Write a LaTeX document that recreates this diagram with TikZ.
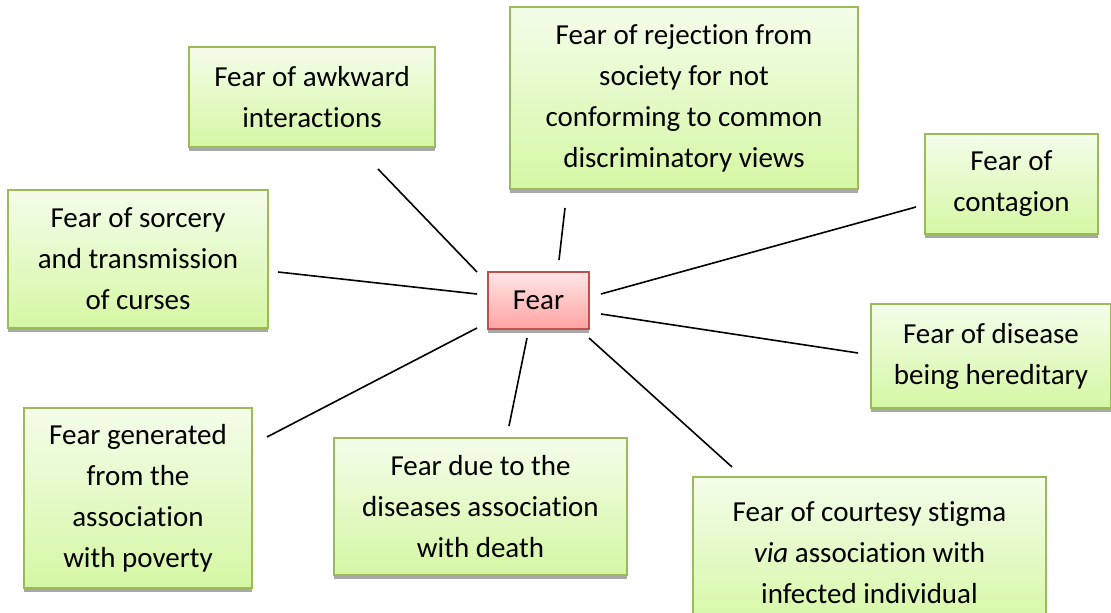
\documentclass[tikz,border=0pt]{standalone}
\usepackage{fontspec}
\setmainfont{Carlito}[Ligatures=NoCommon]
\usetikzlibrary{shadows}
\definecolor{gborder}{HTML}{9BBB59}
\definecolor{gtop}{HTML}{F4FDEA}
\definecolor{gbot}{HTML}{D5F7A4}
\definecolor{rborder}{HTML}{C0504D}
\definecolor{rtop}{HTML}{FFE6E6}
\definecolor{rbot}{HTML}{FFA3A3}
\definecolor{shadowgray}{HTML}{A8A8A8}
\tikzset{
  gbox/.style={draw=gborder, line width=2pt, top color=gtop, bottom color=gbot,
    align=center, inner sep=0pt, font=\fontsize{29}{41}\selectfont,
    general shadow={fill=shadowgray, shadow xshift=0pt, shadow yshift=-4pt}},
  rbox/.style={draw=rborder, line width=2pt, top color=rtop, bottom color=rbot,
    align=center, inner sep=0pt, font=\fontsize{29}{41}\selectfont,
    general shadow={fill=shadowgray, shadow xshift=0pt, shadow yshift=-4pt}},
  link/.style={line width=1.6pt, black}
}
\begin{document}
\begin{tikzpicture}[x=1pt,y=-1pt]
\useasboundingbox (0,0) rectangle (1111,613);
% boxes (center, width, height)
\node[gbox, minimum width=246pt, minimum height=100pt] (awk) at (312,97) {Fear of awkward\\interactions};
\node[gbox, minimum width=348pt, minimum height=182pt] (rej) at (684,98) {Fear of rejection from\\society for not\\conforming to common\\discriminatory views};
\node[gbox, minimum width=173pt, minimum height=100pt] (cont) at (1011.5,184) {Fear of\\contagion};
\node[gbox, minimum width=260pt, minimum height=138pt] (sorc) at (138,259) {Fear of sorcery\\and transmission\\of curses};
\node[rbox, minimum width=101pt, minimum height=57pt] (fear) at (538.5,300.5) {Fear};
\node[gbox, minimum width=240pt, minimum height=104pt] (her) at (991,356) {Fear of disease\\being hereditary};
\node[gbox, minimum width=228pt, minimum height=180pt] (pov) at (138,498) {Fear generated\\from the\\association\\with poverty};
\node[gbox, minimum width=293pt, minimum height=137pt] (death) at (480.5,506.5) {Fear due to the\\diseases association\\with death};
\node[gbox, minimum width=353pt, minimum height=152pt] (cour) at (869.5,553) {Fear of courtesy stigma\\\textit{via} association with\\infected individual};
% connector end points
\coordinate (awkA) at (378,169);  \coordinate (awkB) at (477,272);
\coordinate (rejA) at (565,208);  \coordinate (rejB) at (559,260);
\coordinate (sorA) at (278,272);  \coordinate (sorB) at (477,294);
\coordinate (conA) at (916,207);  \coordinate (conB) at (601,294);
\coordinate (herA) at (858,353);  \coordinate (herB) at (601,314);
\coordinate (povA) at (267,437);  \coordinate (povB) at (477,328);
\coordinate (deaA) at (509,426);  \coordinate (deaB) at (527,338);
\coordinate (couA) at (732,467);  \coordinate (couB) at (589,338);
\draw[link] (awkA) -- (awkB);
\draw[link] (rejA) -- (rejB);
\draw[link] (sorA) -- (sorB);
\draw[link] (conA) -- (conB);
\draw[link] (herA) -- (herB);
\draw[link] (povA) -- (povB);
\draw[link] (deaA) -- (deaB);
\draw[link] (couA) -- (couB);
\end{tikzpicture}
\end{document}
